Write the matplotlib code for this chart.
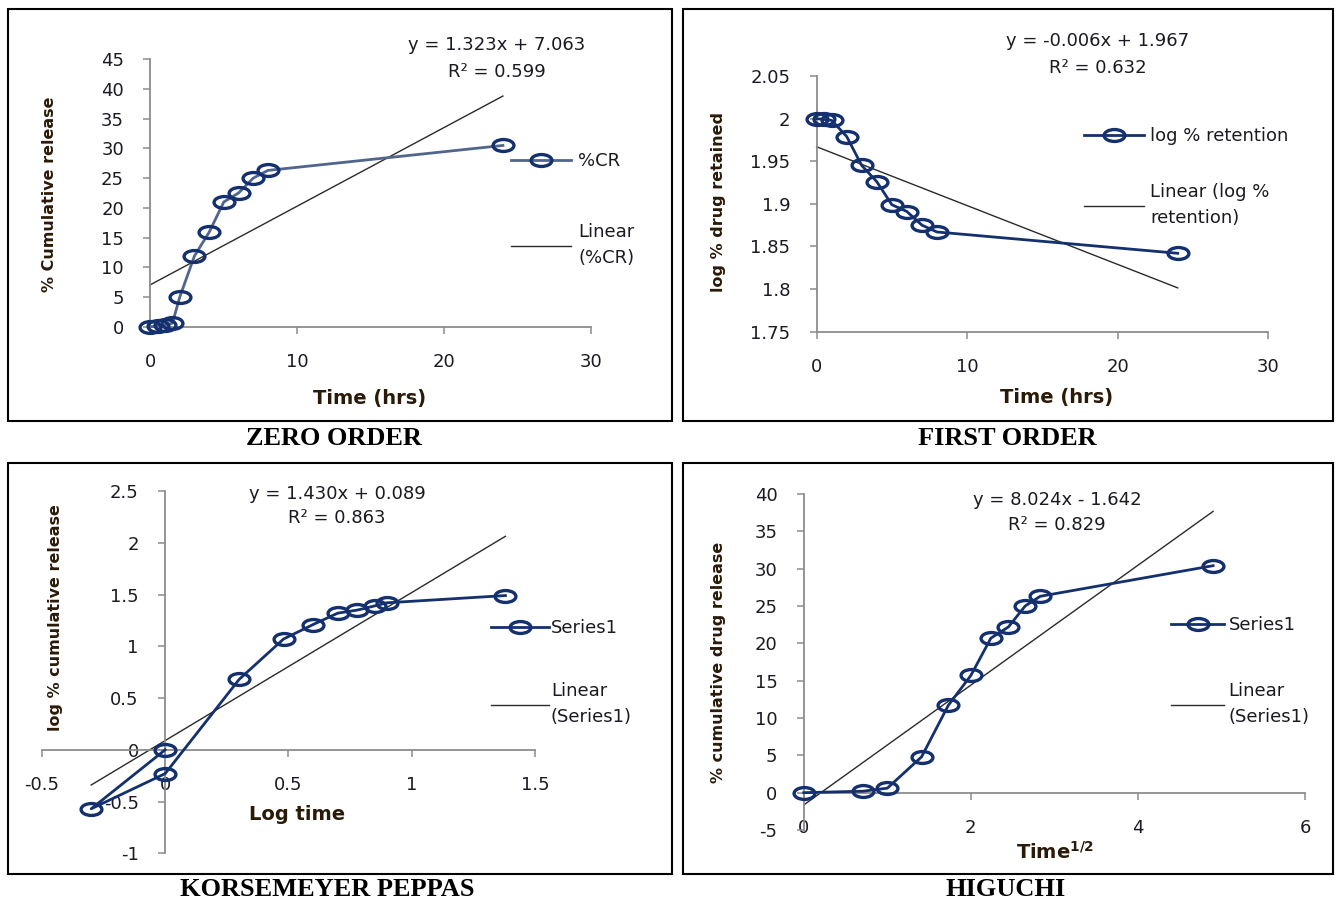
import numpy as np
import matplotlib
matplotlib.use('Agg')
import matplotlib.pyplot as plt
from matplotlib.path import Path
from matplotlib.transforms import Affine2D
from matplotlib.lines import Line2D
from matplotlib.patches import Rectangle
from matplotlib.ticker import FuncFormatter

# ---- data ----
zero_time = [0, 0.5, 1, 1.5, 2, 3, 4, 5, 6, 7, 8, 24]
zero_cr = [0, 0.1, 0.3, 0.6, 5.0, 11.9, 15.9, 21.0, 22.5, 25.0, 26.3, 30.5]
zero_fit = (1.323, 7.063)
zero_eq = ['y = 1.323x + 7.063', 'R² = 0.599']

first_time = [0, 0.5, 1, 2, 3, 4, 5, 6, 7, 8, 24]
first_log_ret = [2.000, 1.999, 1.998, 1.979, 1.945, 1.926, 1.899, 1.891, 1.875, 1.867, 1.842]
first_fit = (-0.0069, 1.967)
first_eq = ['y = -0.006x + 1.967', 'R² = 0.632']

peppas_log_time = [0, -0.30, 0, 0.30, 0.48, 0.60, 0.70, 0.78, 0.85, 0.90, 1.38]
peppas_log_cr = [0, -0.57, -0.23, 0.68, 1.07, 1.21, 1.32, 1.35, 1.39, 1.42, 1.49]
peppas_fit = (1.430, 0.089)
peppas_eq = ['y = 1.430x + 0.089', 'R² = 0.863']

higuchi_sqrt_time = [0, 0.71, 1.0, 1.41, 1.73, 2.0, 2.24, 2.45, 2.65, 2.83, 4.90]
higuchi_cr = [0, 0.2, 0.6, 4.8, 11.7, 15.7, 20.7, 22.2, 25.0, 26.3, 30.4]
higuchi_fit = (8.024, -1.642)
higuchi_eq = ['y = 8.024x - 1.642', 'R² = 0.829']

zero_xticks = [0, 10, 20, 30]
zero_yticks = [0, 5, 10, 15, 20, 25, 30, 35, 40, 45]
first_xticks = [0, 10, 20, 30]
first_yticks = [1.75, 1.8, 1.85, 1.9, 1.95, 2.0, 2.05]
peppas_xticks = [-0.5, 0, 0.5, 1, 1.5]
peppas_yticks = [-1, -0.5, 0, 0.5, 1, 1.5, 2, 2.5]
higuchi_xticks = [0, 2, 4, 6]
higuchi_yticks = [-5, 0, 5, 10, 15, 20, 25, 30, 35, 40]

# ---- figure / layout helpers (pixel coords of the 1336x901 picture) ----
W, H = 1336, 901
fig = plt.figure(figsize=(W / 100, H / 100), dpi=100)
fig.patch.set_facecolor('white')

NAVY = '#14306e'
TXT = '#1a1a22'
LAB = '#2a1a08'
GRID = '#8c8c8c'
FS = 13
FPX = FS * 100 / 72  # font size in pixels
LSP = 1.55  # line spacing inside legend labels

ellipse = Path.unit_circle().transformed(Affine2D().scale(1.75, 1.0))


def fx(px):
    return px / W


def fy(py):
    return 1 - py / H


def make_axes(x0, x1, ytop, ybot):
    return fig.add_axes([fx(x0), fy(ybot), (x1 - x0) / W, (ybot - ytop) / H])


def style_axes(ax, xlim, ylim, xticks, yticks):
    ax.set_xlim(*xlim)
    ax.set_ylim(*ylim)
    ax.set_xticks(xticks)
    ax.set_yticks(yticks)
    fmt = FuncFormatter(lambda v, p: f'{round(v, 3):g}')
    ax.xaxis.set_major_formatter(fmt)
    ax.yaxis.set_major_formatter(fmt)
    for s in ['top', 'right']:
        ax.spines[s].set_visible(False)
    for s in ['left', 'bottom']:
        ax.spines[s].set_color(GRID)
        ax.spines[s].set_linewidth(1.3)
    ax.tick_params(direction='out', length=5, width=1.1, color=GRID,
                   labelsize=FS, labelcolor=TXT, pad=14)
    ax.patch.set_alpha(0)


def draw_series(ax, x, y, fit, line_color, label, trend_label):
    ax.plot(x, y, color=line_color, lw=2.0, marker=ellipse, ms=15,
            mfc='none', mec=NAVY, mew=2.4, clip_on=False, zorder=3)
    xs = np.array([min(x), max(x)])
    ax.plot(xs, fit[0] * xs + fit[1], color='#2a2a2a', lw=1.0,
            clip_on=False, zorder=2)
    h1 = Line2D([], [], color=line_color, lw=2.0, marker=ellipse, ms=15,
                mfc='none', mec=NAVY, mew=2.4)
    h2 = Line2D([], [], color='#2a2a2a', lw=1.0)
    return [h1, h2], [label, trend_label]


def add_legend(ax, handles, labels, hx0, hx1, y1, y2, tx):
    # y1: centre of first entry, y2: first text line of the two-line entry
    h1 = 1.17 * FPX
    h2 = h1 + LSP * FPX * 0.92
    target = (y2 + 5 + 0.5 * LSP * FPX * 0.92) - y1
    spacing = (target - h1 / 2 - h2 / 2) / FPX
    leg = ax.legend(handles, labels, loc='upper left',
                    bbox_to_anchor=(fx(hx0), fy(y1 + 3 - h1 / 2)),
                    bbox_transform=fig.transFigure, frameon=False,
                    fontsize=FS, handlelength=(hx1 - hx0) / FPX,
                    handletextpad=(tx - hx1) / FPX,
                    labelspacing=spacing, borderpad=0, borderaxespad=0,
                    numpoints=1)
    for t in leg.get_texts():
        t.set_color(TXT)
        t.set_linespacing(LSP)


def add_eq(lines, cx, y1, y2):
    fig.text(fx(cx), fy(y1), lines[0], ha='center', va='center',
             fontsize=FS, color=TXT)
    fig.text(fx(cx), fy(y2), lines[1], ha='center', va='center',
             fontsize=FS, color=TXT)


def set_labels(ax, xlab, ylab, xpos, ypos, box):
    x0, x1, ytop, ybot = box
    ax.set_xlabel(xlab, fontsize=14, fontweight='bold', color=LAB, va='center')
    ax.set_ylabel(ylab, fontsize=11.5, fontweight='bold', color=LAB, va='center')
    ax.xaxis.set_label_coords((xpos[0] - x0) / (x1 - x0), (ybot - xpos[1]) / (ybot - ytop))
    ax.yaxis.set_label_coords((ypos[0] - x0) / (x1 - x0), (ybot - ypos[1]) / (ybot - ytop))


# ---- panel frames and captions ----
frames = [(8, 9, 672, 421), (683, 9, 1333, 421), (8, 463, 672, 874), (683, 463, 1333, 874)]
for x0, y0, x1, y1 in frames:
    fig.add_artist(Rectangle((fx(x0), fy(y1)), (x1 - x0) / W, (y1 - y0) / H,
                             transform=fig.transFigure, fill=False,
                             edgecolor='black', lw=1.5))

captions = [('ZERO ORDER', 334, 438), ('FIRST ORDER', 1007, 438),
            ('KORSEMEYER PEPPAS', 327, 890), ('HIGUCHI', 1006, 890)]
for txt, cx, cy in captions:
    fig.text(fx(cx), fy(cy), txt, ha='center', va='center', fontsize=19,
             fontweight='bold', family='Liberation Serif', color='black')

# ---- zero order ----
box1 = (150.4, 591, 59.3, 326.7)
ax1 = make_axes(*box1)
style_axes(ax1, (0, 30), (0, 45), zero_xticks, zero_yticks)
h, l = draw_series(ax1, zero_time, zero_cr, zero_fit, '#52658c', '%CR', 'Linear\n(%CR)')
add_legend(ax1, h, l, 510.7, 570.5, 160, 229, 578)
add_eq(zero_eq, 497, 45, 72)
set_labels(ax1, 'Time (hrs)', '% Cumulative release', (370, 398), (50, 194), box1)

# ---- first order ----
box2 = (816.6, 1268, 76, 331.7)
ax2 = make_axes(*box2)
style_axes(ax2, (0, 30), (1.75, 2.05), first_xticks, first_yticks)
h, l = draw_series(ax2, first_time, first_log_ret, first_fit, NAVY,
                   'log % retention', 'Linear (log %\nretention)')
add_legend(ax2, h, l, 1084, 1143.6, 135, 189, 1150)
add_eq(first_eq, 1098, 41, 68)
set_labels(ax2, 'Time (hrs)', 'log % drug retained', (1057, 397), (719, 202), box2)

# ---- Korsmeyer-Peppas ----
box3 = (41.9, 535, 491, 853.3)
ax3 = make_axes(*box3)
style_axes(ax3, (-0.5, 1.5), (-1, 2.5), peppas_xticks, peppas_yticks)
ax3.spines['left'].set_position(('data', 0))
ax3.spines['bottom'].set_position(('data', 0))
h, l = draw_series(ax3, peppas_log_time, peppas_log_cr, peppas_fit, NAVY,
                   'Series1', 'Linear\n(Series1)')
add_legend(ax3, h, l, 490.6, 549, 626.7, 688, 551)
add_eq(peppas_eq, 337, 494, 518)
set_labels(ax3, 'Log time', 'log % cumulative release', (297, 814), (56, 618), box3)

# ---- Higuchi ----
box4 = (803.8, 1305, 494, 830)
ax4 = make_axes(*box4)
style_axes(ax4, (0, 6), (-5, 40), higuchi_xticks, higuchi_yticks)
ax4.spines['bottom'].set_position(('data', 0))
h, l = draw_series(ax4, higuchi_sqrt_time, higuchi_cr, higuchi_fit, NAVY,
                   'Series1', 'Linear\n(Series1)')
add_legend(ax4, h, l, 1171, 1224, 624, 688, 1228.6)
add_eq(higuchi_eq, 1057, 500, 525)
set_labels(ax4, r'Time$^{\mathbf{1/2}}$', '% cumulative drug release',
           (1055, 852), (718, 662), box4)

fig.savefig('out.png', dpi=100)
